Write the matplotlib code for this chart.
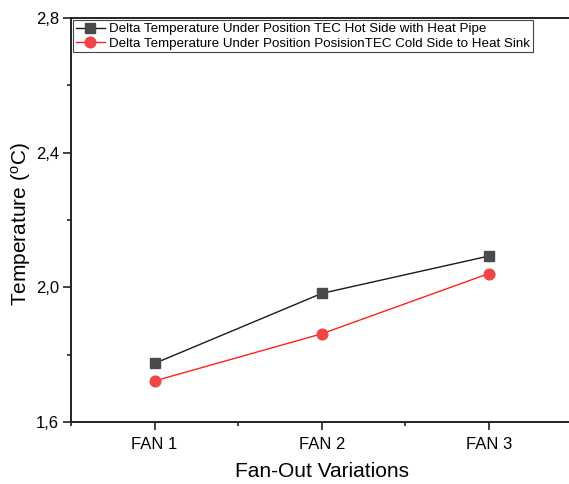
import matplotlib
matplotlib.use("Agg")
import matplotlib.pyplot as plt
from matplotlib.ticker import FixedLocator, FuncFormatter, MultipleLocator

plt.rcParams["font.family"] = ["Liberation Sans", "DejaVu Sans"]
plt.rcParams["mathtext.fontset"] = "custom"
plt.rcParams["mathtext.rm"] = "Liberation Sans"

# ---- data -----------------------------------------------------------------
categories = ["FAN 1", "FAN 2", "FAN 3"]
hot_side_heat_pipe = [1.774, 1.982, 2.093]
cold_side_heat_sink = [1.722, 1.862, 2.041]
label_hot = "Delta Temperature Under Position TEC Hot Side with Heat Pipe"
label_cold = "Delta Temperature Under Position PosisionTEC Cold Side to Heat Sink"

x = list(range(1, len(categories) + 1))

fig = plt.figure(figsize=(5.69, 4.84), dpi=100)
ax = fig.add_axes([71 / 569, 62 / 484, 501.5 / 569, 404 / 484])

ax.plot(x, hot_side_heat_pipe, color="#1a1a1a", lw=1.0, marker="s", ms=6.5,
        mfc="#4a4a4a", mec="#4a4a4a", label=label_hot)
ax.plot(x, cold_side_heat_sink, color="#ff2020", lw=1.0, marker="o", ms=7.7,
        mfc="#f04545", mec="#f04545", label=label_cold)

ax.set_xlim(0.5, 3.5)
ax.set_ylim(1.6, 2.8)
ax.set_xticks(x)
ax.set_xticklabels(categories)
ax.xaxis.set_minor_locator(FixedLocator([0.5, 1.5, 2.5, 3.5]))
ax.yaxis.set_major_locator(MultipleLocator(0.4))
ax.yaxis.set_minor_locator(MultipleLocator(0.2))
ax.yaxis.set_major_formatter(FuncFormatter(lambda v, p: f"{v:.1f}".replace(".", ",")))

ax.tick_params(which="major", direction="out", length=5.5, width=1.2, labelsize=12,
               color="#222222", pad=3)
ax.tick_params(which="minor", direction="out", length=3, width=1.2, color="#222222")
ax.tick_params(axis="x", which="major", pad=5)
for side in ["left", "bottom", "top", "right"]:
    ax.spines[side].set_linewidth(1.4)
    ax.spines[side].set_color("#222222")

ax.set_xlabel("Fan-Out Variations", fontsize=15)
ax.set_ylabel(r"Temperature ($\mathregular{^o}$C)", fontsize=15)
ax.xaxis.set_label_coords(0.5, -0.099)
ax.yaxis.set_label_coords(-0.076, 0.49)

leg = ax.legend(loc="upper left", bbox_to_anchor=(0.004, 0.994), fontsize=9.6,
                fancybox=False, framealpha=1, edgecolor="#444444",
                handlelength=2.2, handletextpad=0.3, borderpad=0.2,
                labelspacing=0.15, borderaxespad=0.0)
leg.get_frame().set_linewidth(0.8)

fig.savefig("out.png", dpi=100)
